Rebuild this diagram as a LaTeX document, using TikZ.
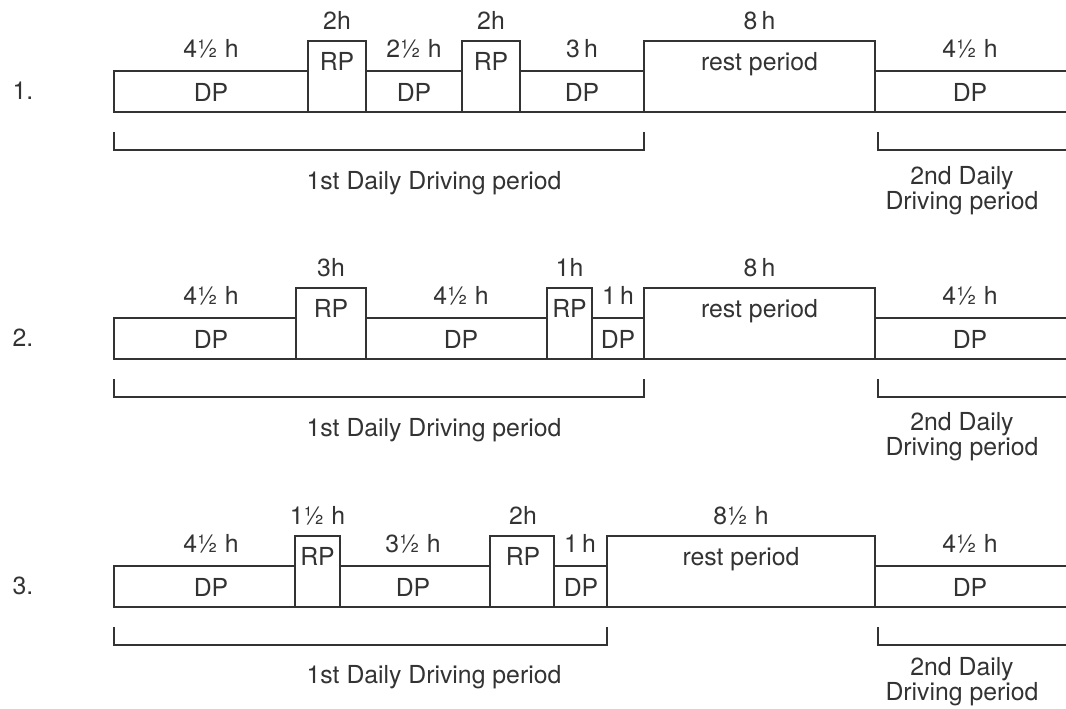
\documentclass[tikz,border=0pt]{standalone}
\usepackage{fontspec}
\setmainfont{TeX Gyre Heros}
\usetikzlibrary{fit}
\definecolor{ink}{HTML}{333333}
\newcommand\diagfont{\fontsize{18.6}{15.2}\selectfont}
\begin{document}
\begin{tikzpicture}[x=0.75pt,y=-0.75pt,
  box/.style={draw=ink, line width=1pt, inner sep=0pt},
  lbl/.style={font=\diagfont, text=ink, inner sep=0pt, anchor=base},
  two/.style={font=\diagfont, text=ink, inner sep=0pt, align=center, anchor=north},
  brk/.style={draw=ink, line width=1pt}]
\useasboundingbox (0,0) rectangle (1066,708);

% ---------------- Row 1 ----------------
\node[lbl] (n1) at (23,99) {1.};
\node[box, fit={(114,71) (308,112)}] (a1) {};
\node[box, fit={(308,41) (366,112)}] (a2) {};
\node[box, fit={(366,71) (462,112)}] (a3) {};
\node[box, fit={(462,41) (520,112)}] (a4) {};
\node[box, fit={(520,71) (644,112)}] (a5) {};
\node[box, fit={(644,41) (875,112)}] (a6) {};
\node[box, fit={(875,71) (1080,112)}] (a7) {};
\node[lbl] (a1t) at (211,101) {DP};
\node[lbl] (a2t) at (337,70) {RP};
\node[lbl] (a3t) at (414,101) {DP};
\node[lbl] (a4t) at (491,70) {RP};
\node[lbl] (a5t) at (582,101) {DP};
\node[lbl] (a6t) at (759.5,70) {rest period};
\node[lbl] (a7t) at (970,101) {DP};
\node[lbl] (a1h) at (211,57) {4½ h};
\node[lbl] (a2h) at (337,29) {2h};
\node[lbl] (a3h) at (414,57) {2½ h};
\node[lbl] (a4h) at (491,29) {2h};
\node[lbl] (a5h) at (582,57) {3\,h};
\node[lbl] (a6h) at (759.5,29) {8\,h};
\node[lbl] (a7h) at (970,57) {4½ h};
\coordinate (a1b1) at (114,132); \coordinate (a1b2) at (114,150);
\coordinate (a1b3) at (644,150); \coordinate (a1b4) at (644,132);
\draw[brk] (a1b1) -- (a1b2) -- (a1b3) -- (a1b4);
\coordinate (a2b1) at (878,132); \coordinate (a2b2) at (878,150);
\coordinate (a2b3) at (1080,150);
\draw[brk] (a2b1) -- (a2b2) -- (a2b3);
\node[lbl] (a1p) at (434,189) {1st Daily Driving period};
\node[two] (a2p) at (962,166) {2nd Daily\\Driving period};

% ---------------- Row 2 ----------------
\node[lbl] (n2) at (23,346) {2.};
\node[box, fit={(114,318) (296,359)}] (b1) {};
\node[box, fit={(296,288) (366,359)}] (b2) {};
\node[box, fit={(366,318) (547,359)}] (b3) {};
\node[box, fit={(547,288) (592,359)}] (b4) {};
\node[box, fit={(592,318) (644,359)}] (b5) {};
\node[box, fit={(644,288) (875,359)}] (b6) {};
\node[box, fit={(875,318) (1080,359)}] (b7) {};
\node[lbl] (b1t) at (211,348) {DP};
\node[lbl] (b2t) at (331,317) {RP};
\node[lbl] (b3t) at (461,348) {DP};
\node[lbl] (b4t) at (569.5,317) {RP};
\node[lbl] (b5t) at (618,348) {DP};
\node[lbl] (b6t) at (759.5,317) {rest period};
\node[lbl] (b7t) at (970,348) {DP};
\node[lbl] (b1h) at (211,304) {4½ h};
\node[lbl] (b2h) at (331,276) {3h};
\node[lbl] (b3h) at (461,304) {4½ h};
\node[lbl] (b4h) at (569.5,276) {1h};
\node[lbl] (b5h) at (618,304) {1\,h};
\node[lbl] (b6h) at (759.5,276) {8\,h};
\node[lbl] (b7h) at (970,304) {4½ h};
\coordinate (b1b1) at (114,379); \coordinate (b1b2) at (114,397);
\coordinate (b1b3) at (644,397); \coordinate (b1b4) at (644,379);
\draw[brk] (b1b1) -- (b1b2) -- (b1b3) -- (b1b4);
\coordinate (b2b1) at (878,379); \coordinate (b2b2) at (878,397);
\coordinate (b2b3) at (1080,397);
\draw[brk] (b2b1) -- (b2b2) -- (b2b3);
\node[lbl] (b1p) at (434,436) {1st Daily Driving period};
\node[two] (b2p) at (962,412) {2nd Daily\\Driving period};

% ---------------- Row 3 ----------------
\node[lbl] (n3) at (23,594) {3.};
\node[box, fit={(114,566) (295,607)}] (c1) {};
\node[box, fit={(295,536) (340,607)}] (c2) {};
\node[box, fit={(340,566) (490,607)}] (c3) {};
\node[box, fit={(490,536) (554,607)}] (c4) {};
\node[box, fit={(554,566) (607,607)}] (c5) {};
\node[box, fit={(607,536) (875,607)}] (c6) {};
\node[box, fit={(875,566) (1080,607)}] (c7) {};
\node[lbl] (c1t) at (211,596) {DP};
\node[lbl] (c2t) at (317.5,565) {RP};
\node[lbl] (c3t) at (413,596) {DP};
\node[lbl] (c4t) at (523,565) {RP};
\node[lbl] (c5t) at (581,596) {DP};
\node[lbl] (c6t) at (741,565) {rest period};
\node[lbl] (c7t) at (970,596) {DP};
\node[lbl] (c1h) at (211,552) {4½ h};
\node[lbl] (c2h) at (317.5,524) {1½ h};
\node[lbl] (c3h) at (413,552) {3½ h};
\node[lbl] (c4h) at (523,524) {2h};
\node[lbl] (c5h) at (580,552) {1\,h};
\node[lbl] (c6h) at (741,524) {8½ h};
\node[lbl] (c7h) at (970,552) {4½ h};
\coordinate (c1b1) at (114,627); \coordinate (c1b2) at (114,645);
\coordinate (c1b3) at (607,645); \coordinate (c1b4) at (607,627);
\draw[brk] (c1b1) -- (c1b2) -- (c1b3) -- (c1b4);
\coordinate (c2b1) at (878,627); \coordinate (c2b2) at (878,645);
\coordinate (c2b3) at (1080,645);
\draw[brk] (c2b1) -- (c2b2) -- (c2b3);
\node[lbl] (c1p) at (434,683) {1st Daily Driving period};
\node[two] (c2p) at (962,657) {2nd Daily\\Driving period};
\end{tikzpicture}
\end{document}
